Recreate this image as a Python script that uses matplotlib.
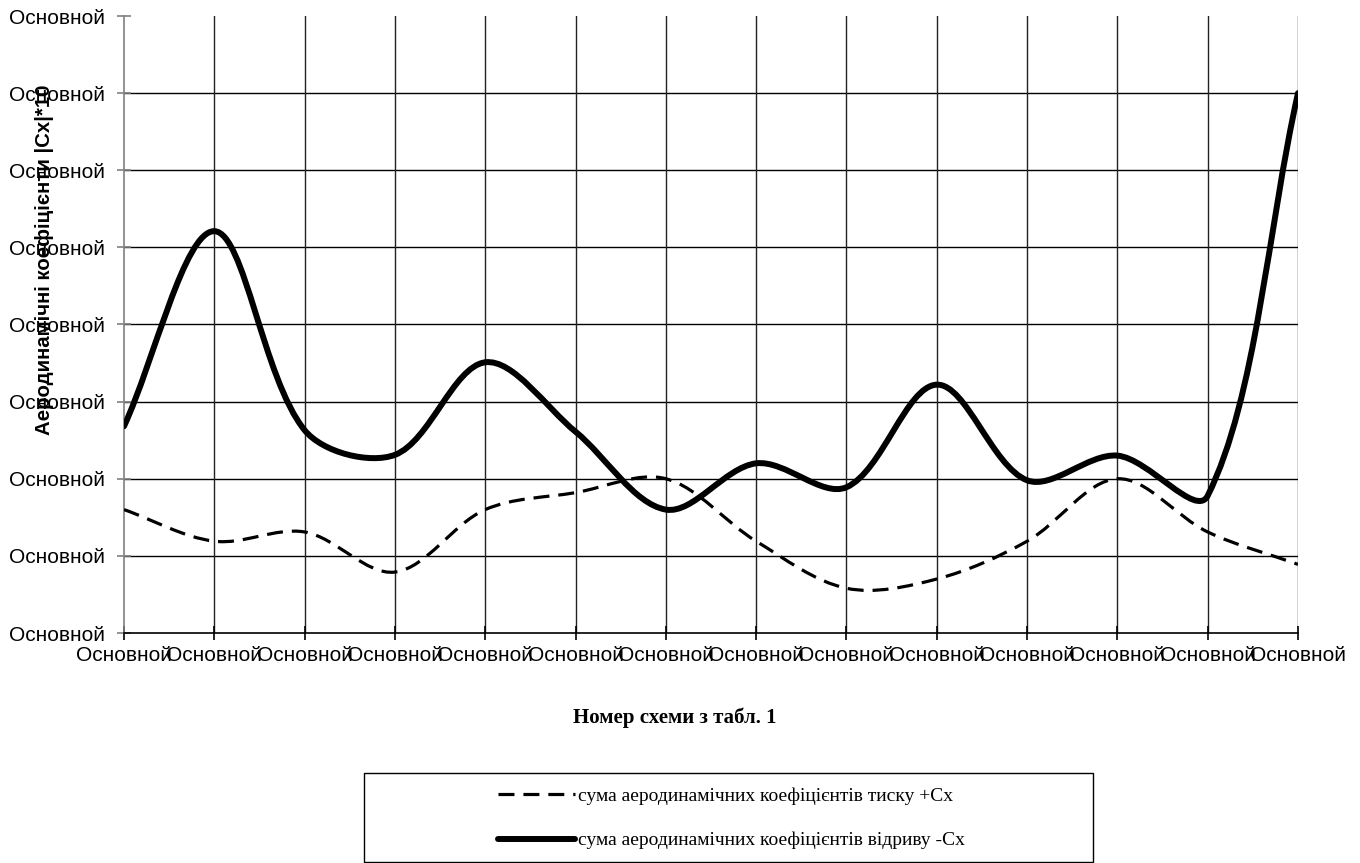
import numpy as np
import matplotlib
matplotlib.use("Agg")
import matplotlib.pyplot as plt
from matplotlib.path import Path
from matplotlib.patches import PathPatch, Rectangle
from matplotlib.lines import Line2D

categories = ["Основной"] * 14
ytick_labels = ["Основной"] * 9
pressure = [1.60, 1.19, 1.31, 0.79, 1.60, 1.82, 2.00, 1.19, 0.58, 0.70, 1.19, 2.00, 1.31, 0.89]
suction = [2.68, 5.21, 2.63, 2.31, 3.51, 2.61, 1.60, 2.20, 1.89, 3.22, 1.98, 2.30, 1.78, 7.00]
label_pressure = "сума аеродинамічних коефіцієнтів тиску +Cx"
label_suction = "сума аеродинамічних коефіцієнтів відриву -Cx"
xlabel = "Номер схеми з табл. 1"
ylabel = "Аеродинамічні коефіцієнти |Cx|*10"

W, H = 1360, 863
fig = plt.figure(figsize=(W / 100, H / 100), dpi=100)
ax = fig.add_axes([124 / W, 1 - 633 / H, (1298 - 124) / W, (633 - 16) / H])

x = np.arange(len(categories))
ax.set_xlim(0, len(categories) - 1)
ax.set_ylim(0, 8)


def smooth_path(xs, ys, t=1.0 / 3.0):
    pts = np.column_stack([xs, ys]).astype(float)
    disp = ax.transData.transform(pts)
    n = len(pts)

    def dist(i, j):
        return float(np.hypot(*(disp[i] - disp[j])))

    c_in = [None] * n
    c_out = [None] * n
    for i in range(n):
        ip = max(i - 1, 0)
        inx = min(i + 1, n - 1)
        d0 = dist(ip, i)
        d1 = dist(i, inx)
        tot = d0 + d1 if d0 + d1 > 0 else 1.0
        tan = pts[inx] - pts[ip]
        c_in[i] = pts[i] - t * d0 / tot * tan
        c_out[i] = pts[i] + t * d1 / tot * tan
    verts = [pts[0]]
    codes = [Path.MOVETO]
    for i in range(n - 1):
        verts += [c_out[i], c_in[i + 1], pts[i + 1]]
        codes += [Path.CURVE4] * 3
    return Path(verts, codes)


ax.add_patch(PathPatch(smooth_path(x, pressure), facecolor="none", edgecolor="black",
                       lw=2.3, linestyle=(0, (5, 2.8)), capstyle="butt", zorder=3))
ax.add_patch(PathPatch(smooth_path(x, suction), facecolor="none", edgecolor="black",
                       lw=4.3, capstyle="round", joinstyle="round", zorder=4))

ax.set_xticks(x)
ax.set_xticklabels(categories, fontfamily="Liberation Sans", fontsize=15)
ax.set_yticks(np.arange(9))
ax.set_yticklabels(ytick_labels, fontfamily="Liberation Sans", fontsize=15)

for yv in range(1, 8):
    ax.axhline(yv, color="black", lw=1.0, zorder=1)
for xv in x[1:]:
    ax.axvline(xv, color="#222222", lw=1.0, zorder=1)

for s in ["top", "right"]:
    ax.spines[s].set_visible(False)
ax.spines["left"].set_color("#808080")
ax.spines["left"].set_linewidth(1.2)
ax.spines["bottom"].set_color("black")
ax.spines["bottom"].set_linewidth(1.2)
ax.tick_params(axis="y", direction="inout", length=10, width=1.2, color="#808080", pad=9)
ax.tick_params(axis="x", direction="inout", length=10, width=1.2, color="black", pad=4)

fig.text(44 / W, 1 - 260 / H, ylabel, rotation=90, ha="center", va="center",
         fontfamily="Liberation Sans", fontweight="bold", fontsize=14.7)
fig.text(675 / W, 1 - 718 / H, xlabel, ha="center", va="center",
         fontfamily="Liberation Serif", fontweight="bold", fontsize=15)

fig.patches.append(Rectangle((364 / W, 1 - 862 / H), (1093 - 364) / W, (862 - 773) / H,
                             transform=fig.transFigure, facecolor="white",
                             edgecolor="black", lw=1.0))
handles = [
    Line2D([], [], color="black", lw=2.3, linestyle=(0, (5, 2.8))),
    Line2D([], [], color="black", lw=4.3, solid_capstyle="round"),
]
fig.legend(handles, [label_pressure, label_suction], loc="center left",
           bbox_to_anchor=(480 / W, 1 - 818.5 / H), frameon=False,
           prop={"family": "Liberation Serif", "size": 14},
           handlelength=4.0, handletextpad=0.12, labelspacing=1.36)

fig.savefig("out.png", dpi=100)
